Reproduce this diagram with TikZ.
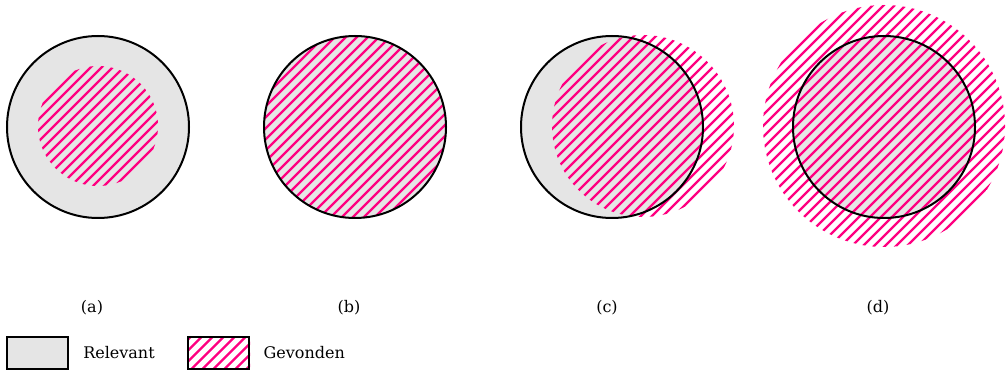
\documentclass[tikz,border=0pt]{standalone}
\usepackage{fontspec}
\setmainfont{DejaVu Serif}
\usetikzlibrary{positioning}
\usetikzlibrary{backgrounds}
\definecolor{relgray}{RGB}{229,229,229}
\definecolor{foundpink}{RGB}{255,0,128}

% hatched disc: #1 = centre, #2 = radius
\newcommand{\hatchdisc}[2]{%
  \begin{scope}
    \clip (#1) circle[radius=#2];
    \foreach \k in {-17,...,17}
      \draw[hatchline, shift={(#1)}] (\k*11-130,130) -- (\k*11+130,-130);
  \end{scope}}

\begin{document}
\begin{tikzpicture}[
    x=0.75pt, y=-0.75pt,
    font=\fontsize{12}{14}\selectfont,
    hatchline/.style={draw=foundpink, line width=1.75pt},
    rel/.style={circle, fill=relgray, minimum size=136.5pt, inner sep=0pt},
    rim/.style={line width=1.5pt},
    key/.style={rectangle, draw, line width=1.5pt, minimum width=45.75pt, minimum height=24pt, inner sep=0pt},
    lbl/.style={inner sep=0pt}
]
\useasboundingbox (0,0) rectangle (1006,370);

% Relevant sets
\node[rel] (ra) at (98,127) {};
\node[rel] (rb) at (355,127) {};
\node[rel] (rc) at (612,127) {};
\node[rel] (rd) at (884,127) {};

% Found sets
\coordinate (fa) at (98,126);
\coordinate (fb) at (355,127);
\coordinate (fc) at (643,126);
\coordinate (fd) at (884,126);
\hatchdisc{fa}{60}
\hatchdisc{fb}{91}
\hatchdisc{fc}{91}
\hatchdisc{fd}{121}

% Outlines of the relevant sets
\draw[rim] (ra.center) circle[radius=91];
\draw[rim] (rb.center) circle[radius=91];
\draw[rim] (rc.center) circle[radius=91];
\draw[rim] (rd.center) circle[radius=91];

% Captions
\node (capa) at (92,308) {(a)};
\node (capb) at (349,308) {(b)};
\node (capc) at (607,308) {(c)};
\node (capd) at (878,308) {(d)};

% Legend
\node[key, fill=relgray] (keyrel) at (37.5,353) {};
\node[lbl, right=10.5pt of keyrel] (txtrel) {Relevant};
\node[key] (keyfound) at (218.5,353) {};
\node[lbl, right=10pt of keyfound] (txtfound) {Gevonden};
\begin{scope}[on background layer]
  \clip (keyfound.south west) rectangle (keyfound.north east);
  \foreach \k in {-6,...,6}
    \draw[hatchline, shift={(keyfound.center)}] (\k*11-40,40) -- (\k*11+40,-40);
\end{scope}
\end{tikzpicture}
\end{document}
